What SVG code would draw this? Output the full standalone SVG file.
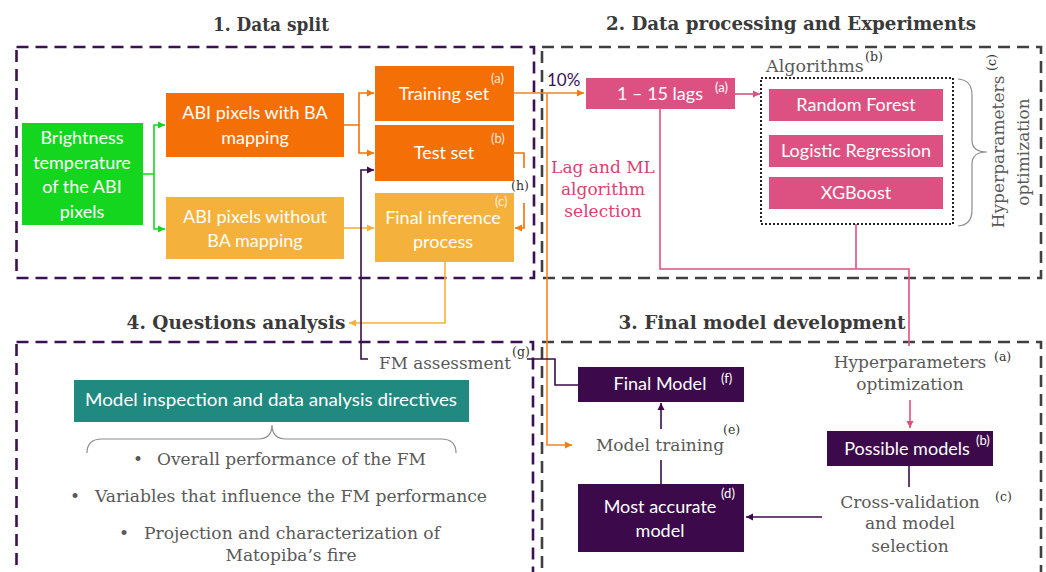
<svg xmlns="http://www.w3.org/2000/svg" width="1046" height="572" viewBox="0 0 1046 572">
<defs>
<style>
.title{font-family:"DejaVu Serif",serif;font-weight:bold;font-size:18px;fill:#3a3a3a;text-anchor:middle}
.bt{font-family:Lato,"Liberation Sans",sans-serif;font-size:18px;fill:#fff;text-anchor:middle}
.sup{font-family:Lato,"Liberation Sans",sans-serif;font-size:13px;fill:#fff}
.ssup{font-family:"DejaVu Serif",serif;font-size:12.5px;fill:#333}
.gt{font-family:"DejaVu Serif",serif;font-size:17px;fill:#595959;text-anchor:middle}
.gl{font-family:"DejaVu Serif",serif;font-size:17px;fill:#595959;text-anchor:start}
.pt{font-family:"DejaVu Serif",serif;font-size:17px;fill:#dd3f73;text-anchor:middle}
.c{fill:none;stroke-width:1.6}
.pdash{fill:none;stroke:#3c1053;stroke-width:2.6;stroke-dasharray:12 7}
.gdash{fill:none;stroke:#404040;stroke-width:2.6;stroke-dasharray:12 7}
</style>
<marker id="aG" markerWidth="8" markerHeight="8" refX="7" refY="4" orient="auto" markerUnits="userSpaceOnUse"><path d="M0,0.5 L7,4 L0,7.5 z" fill="#14d61e"/></marker>
<marker id="aO" markerWidth="8" markerHeight="8" refX="7" refY="4" orient="auto" markerUnits="userSpaceOnUse"><path d="M0,0.5 L7,4 L0,7.5 z" fill="#f47a12"/></marker>
<marker id="aL" markerWidth="8" markerHeight="8" refX="7" refY="4" orient="auto" markerUnits="userSpaceOnUse"><path d="M0,0.5 L7,4 L0,7.5 z" fill="#f4b13c"/></marker>
<marker id="aP" markerWidth="8" markerHeight="8" refX="7" refY="4" orient="auto" markerUnits="userSpaceOnUse"><path d="M0,0.5 L7,4 L0,7.5 z" fill="#e0507f"/></marker>
<marker id="aU" markerWidth="8" markerHeight="8" refX="7" refY="4" orient="auto" markerUnits="userSpaceOnUse"><path d="M0,0.5 L7,4 L0,7.5 z" fill="#3c0a4a"/></marker>
</defs>
<rect width="1046" height="572" fill="#fff"/>

<!-- section frames and titles -->
<g id="sections">
<rect class="pdash" x="16.5" y="47" width="517.5" height="231"/>
<rect class="gdash" x="542" y="47" width="499" height="231"/>
<rect class="gdash" x="542" y="342" width="499" height="260"/>
<rect class="pdash" x="16.5" y="342" width="516.5" height="260"/>
<text class="title" x="271" y="31" textLength="116" lengthAdjust="spacingAndGlyphs">1. Data split</text>
<text class="title" x="791" y="30" textLength="370" lengthAdjust="spacingAndGlyphs">2. Data processing and Experiments</text>
<text class="title" x="762" y="329" textLength="287" lengthAdjust="spacingAndGlyphs">3. Final model development</text>
<text class="title" x="236" y="329" textLength="219" lengthAdjust="spacingAndGlyphs">4. Questions analysis</text>
</g>

<!-- connectors -->
<g id="connectors">
<path class="c" stroke="#14d61e" d="M143,174 H154 V125 H165" marker-end="url(#aG)"/>
<path class="c" stroke="#14d61e" d="M154,174 V229 H165" marker-end="url(#aG)"/>
<path class="c" stroke="#f47007" d="M344,125 H359 V93 H374" marker-end="url(#aO)"/>
<path class="c" stroke="#f47007" d="M359,125 V153 H374" marker-end="url(#aO)"/>
<path class="c" stroke="#f4b13c" d="M344,228 H374" marker-end="url(#aL)"/>
<path class="c" stroke="#f47007" d="M514,153 H524 V168"/>
<path class="c" stroke="#f47007" d="M524,203 V228 H515" marker-end="url(#aO)"/>
<path class="c" stroke="#f4b13c" d="M445,262 V323 H349" marker-end="url(#aL)"/>
<path class="c" stroke="#f7831f" d="M514,93 H584" marker-end="url(#aO)"/>
<path class="c" stroke="#f7831f" d="M547,93 V445 H572" marker-end="url(#aO)"/>
<path class="c" stroke="#3c0a4a" d="M578,385 H555 V359 H527"/>
<path class="c" stroke="#3c0a4a" d="M368,359 H361 V170 H374" marker-end="url(#aU)"/>
<path class="c" stroke="#e0507f" d="M735,94 H760" marker-end="url(#aP)"/>
<path class="c" stroke="#e0507f" d="M660,109 V269 H909 V346"/>
<path class="c" stroke="#e0507f" d="M856,224 V269"/>
<path class="c" stroke="#e0507f" d="M910,400 V428" marker-end="url(#aP)"/>
<path class="c" stroke="#3c0a4a" d="M909,466 V487"/>
<path class="c" stroke="#3c0a4a" d="M822,517 H746" marker-end="url(#aU)"/>
<path class="c" stroke="#3c0a4a" d="M661,484 V460"/>
<path class="c" stroke="#3c0a4a" d="M661,429 V403" marker-end="url(#aU)"/>
</g>

<!-- 1. Data split -->
<g id="brightness">
<rect x="22" y="123" width="121" height="102" fill="#14d61e"/>
<text class="bt" font-size="19" x="82" y="144">Brightness</text>
<text class="bt" font-size="19" x="82" y="169">temperature</text>
<text class="bt" font-size="19" x="82" y="193">of the ABI</text>
<text class="bt" font-size="19" x="82" y="218">pixels</text>
</g>
<g id="abi-with">
<rect x="166" y="93" width="178" height="64" fill="#f47007"/>
<text class="bt" x="255" y="119">ABI pixels with BA</text>
<text class="bt" x="255" y="144">mapping</text>
</g>
<g id="abi-without">
<rect x="166" y="197" width="178" height="62" fill="#f4b13c"/>
<text class="bt" x="255" y="223">ABI pixels without</text>
<text class="bt" x="255" y="247">BA mapping</text>
</g>
<g id="training-set">
<rect x="375" y="66" width="139" height="55" fill="#f47007"/>
<text class="bt" x="444" y="100">Training set</text>
<text class="sup" x="491" y="83" fill-opacity="0.85">(a)</text>
</g>
<g id="test-set">
<rect x="375" y="125" width="139" height="56" fill="#f47007"/>
<text class="bt" x="444" y="159">Test set</text>
<text class="sup" x="491" y="143" fill-opacity="0.85">(b)</text>
</g>
<g id="final-inference">
<rect x="375" y="193" width="139" height="69" fill="#f4b13c"/>
<text class="bt" x="443" y="224">Final inference</text>
<text class="bt" x="443" y="248">process</text>
<text class="sup" x="495" y="206" fill-opacity="0.85">(c)</text>
</g>
<g id="label-h"><text class="ssup" font-size="13" x="511" y="190">(h)</text></g>

<!-- 2. Data processing -->
<g id="pct"><text x="547" y="86" font-family="Lato,'Liberation Sans',sans-serif" font-size="17" fill="#3c1053">10%</text></g>
<g id="lags">
<rect x="586" y="78" width="149" height="31" fill="#dd5182"/>
<text class="bt" x="660" y="100">1 – 15 lags</text>
<text class="sup" x="715" y="92">(a)</text>
</g>
<g id="lag-selection">
<text class="pt" x="603" y="173">Lag and ML</text>
<text class="pt" x="603" y="195">algorithm</text>
<text class="pt" x="603" y="217">selection</text>
</g>
<g id="algorithms">
<rect x="761" y="78" width="192" height="146" fill="none" stroke="#222" stroke-width="2" stroke-dasharray="2 2"/>
<text x="766" y="72" font-family="'DejaVu Serif',serif" font-size="17.5" fill="#595959">Algorithms</text>
<text class="ssup" x="865" y="61">(b)</text>
</g>
<g id="random-forest">
<rect x="769" y="89" width="174" height="32" fill="#dd5182"/>
<text class="bt" x="856" y="111">Random Forest</text>
</g>
<g id="logistic-regression">
<rect x="769" y="135" width="174" height="32" fill="#dd5182"/>
<text class="bt" x="856" y="157">Logistic Regression</text>
</g>
<g id="xgboost">
<rect x="769" y="177" width="174" height="32" fill="#dd5182"/>
<text class="bt" x="856" y="199">XGBoost</text>
</g>
<g id="hyper-brace">
<path d="M958,79 Q972,80 972,95 V140 Q972,152 987,152 Q972,152 972,164 V210 Q972,225 958,226" fill="none" stroke="#8c8c8c" stroke-width="1.2"/>
<text class="gt" font-size="18" transform="translate(1004,152) rotate(-90)">Hyperparameters</text>
<text class="gt" font-size="18" transform="translate(1029,152) rotate(-90)">optimization</text>
<text class="ssup" transform="translate(996,71) rotate(-90)">(c)</text>
</g>

<!-- 3. Final model development -->
<g id="hyper-opt">
<text class="gt" x="910" y="368">Hyperparameters</text>
<text class="gt" x="910" y="390">optimization</text>
<text class="ssup" x="994" y="361">(a)</text>
</g>
<g id="possible-models">
<rect x="827" y="431" width="166" height="35" fill="#3c0a4a"/>
<text class="bt" x="907" y="455">Possible models</text>
<text class="sup" x="976" y="445">(b)</text>
</g>
<g id="cross-validation">
<text class="gt" x="910" y="508">Cross-validation</text>
<text class="gt" x="910" y="529">and model</text>
<text class="gt" x="910" y="552">selection</text>
<text class="ssup" x="995" y="501">(c)</text>
</g>
<g id="most-accurate">
<rect x="578" y="484" width="166" height="68" fill="#3c0a4a"/>
<text class="bt" x="660" y="513">Most accurate</text>
<text class="bt" x="660" y="537">model</text>
<text class="sup" x="721" y="498">(d)</text>
</g>
<g id="model-training">
<text class="gt" x="660" y="451">Model training</text>
<text class="ssup" x="723" y="434">(e)</text>
</g>
<g id="final-model">
<rect x="578" y="367" width="166" height="35" fill="#3c0a4a"/>
<text class="bt" x="660" y="390">Final Model</text>
<text class="sup" x="721" y="383">(f)</text>
</g>

<!-- 4. Questions analysis -->
<g id="fm-assessment">
<text class="gt" x="445" y="369" textLength="132" lengthAdjust="spacingAndGlyphs">FM assessment</text>
<text class="ssup" x="512" y="356">(g)</text>
</g>
<g id="directives">
<rect x="74" y="380" width="395" height="42" fill="#218a80"/>
<text class="bt" x="271" y="406" textLength="372" lengthAdjust="spacingAndGlyphs">Model inspection and data analysis directives</text>
<path d="M87,453 Q87,439 102,439 H258 Q272,439 272,425 Q272,439 286,439 H441 Q456,439 456,453" fill="none" stroke="#8c8c8c" stroke-width="1.2"/>
</g>
<g id="bullets">
<text class="gl" x="133" y="465">•</text>
<text class="gl" x="157" y="465" textLength="269" lengthAdjust="spacingAndGlyphs">Overall performance of the FM</text>
<text class="gl" x="70" y="502">•</text>
<text class="gl" x="95" y="502" textLength="392" lengthAdjust="spacingAndGlyphs">Variables that influence the FM performance</text>
<text class="gl" x="119" y="539">•</text>
<text class="gl" x="144" y="539" textLength="296" lengthAdjust="spacingAndGlyphs">Projection and characterization  of</text>
<text class="gt" x="291" y="561">Matopiba’s fire</text>
</g>
</svg>
